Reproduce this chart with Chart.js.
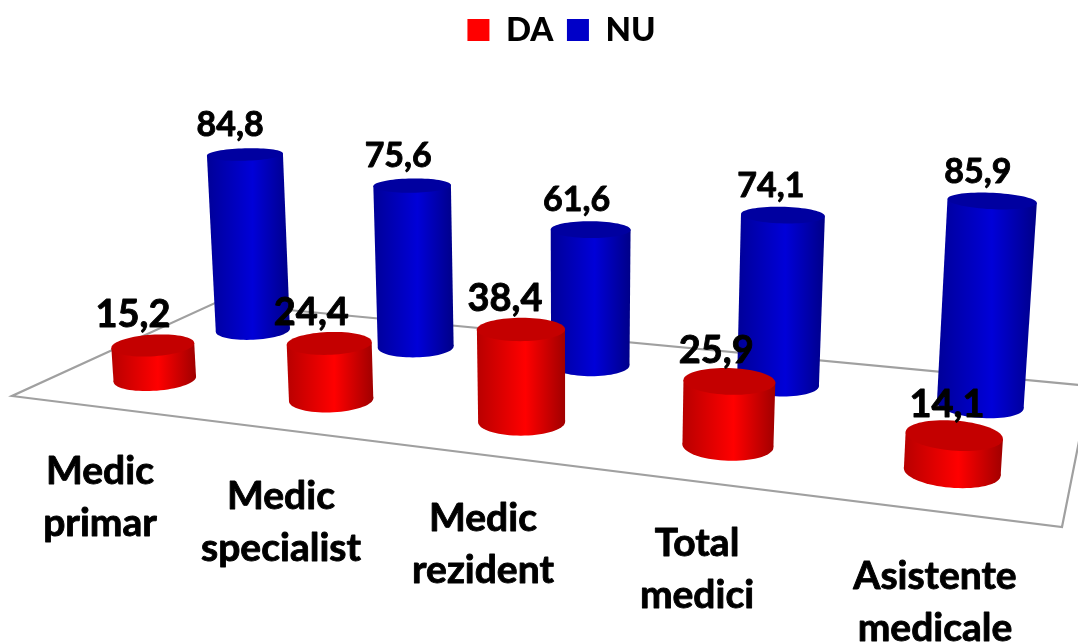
<!DOCTYPE html>
<html><head><meta charset="utf-8">
<style>html,body{margin:0;padding:0;background:#fff;overflow:hidden}canvas{display:block}</style>
<script src="https://cdn.jsdelivr.net/npm/chart.js@4/dist/chart.umd.js"></script>
</head><body><canvas id="c" width="1078" height="643"></canvas>
<script>
const categories = [['Medic','primar'],['Medic','specialist'],['Medic','rezident'],['Total','medici'],['Asistente','medicale']];
const daValues = [15.2,24.4,38.4,25.9,14.1];
const nuValues = [84.8,75.6,61.6,74.1,85.9];

// view geometry of the pseudo-3D floor
const FONT = 'Lato, "Open Sans", sans-serif';
const baseQuad = [[155,379],[952,471.5],[980,405],[253,330]];
const vanish = [573,7400];
const heightGain = -3.15e-4;
const radius = 0.205;
const floorCorners = [[12,396],[1062,527],[1090,386],[215,303]];
const labelCentres = [[100,497],[281,522],[483,544],[697,569],[935,602]];
const valueFont = [38,34];
const valueShiftX = [[-20,-18,-16,-13,-7],[-15,-14,-14,-12,-14]];
const valueShiftY = [-30,-29];
const palette = [
  {legend:'#ff0000',edgeL:'#b80000',mid:'#ff0000',edgeR:'#a00000',top:'#c40000'},
  {legend:'#0000c8',edgeL:'#000098',mid:'#0000d8',edgeR:'#000088',top:'#0000a0'}
];

function homography(q){
  const [[x0,y0],[x1,y1],[x2,y2],[x3,y3]] = q;
  const dx1=x1-x2,dx2=x3-x2,sx=x0-x1+x2-x3,dy1=y1-y2,dy2=y3-y2,sy=y0-y1+y2-y3;
  const den=dx1*dy2-dx2*dy1;
  const g=(sx*dy2-dx2*sy)/den,h=(dx1*sy-sx*dy1)/den;
  return [x1-x0+g*x1,x3-x0+h*x3,x0,y1-y0+g*y1,y3-y0+h*y3,y0,g,h,1];
}
const H = homography(baseQuad);
function project(i,s,v){
  const u=i/4;
  const X=H[0]*u+H[1]*s+H[2]+heightGain*v*vanish[0];
  const Y=H[3]*u+H[4]*s+H[5]+heightGain*v*vanish[1];
  const W=H[6]*u+H[7]*s+H[8]+heightGain*v;
  return [X/W,Y/W];
}
function ring(i,s,v){
  const pts=[];
  for(let k=0;k<72;k++){
    const a=k/72*Math.PI*2;
    pts.push(project(i+radius*Math.cos(a),s+radius*Math.sin(a),v));
  }
  return pts;
}
function extremes(pts){
  let l=pts[0],r=pts[0],t=pts[0];
  for(const p of pts){ if(p[0]<l[0])l=p; if(p[0]>r[0])r=p; if(p[1]<t[1])t=p; }
  return {l,r,t};
}
function tracePoly(ctx,pts){
  ctx.beginPath();
  pts.forEach((p,k)=>k?ctx.lineTo(p[0],p[1]):ctx.moveTo(p[0],p[1]));
  ctx.closePath();
}

class CylinderElement extends Chart.BarElement {
  draw(ctx){
    const g=this.cyl; if(!g) return;
    const pal=palette[g.s];
    const bot=ring(g.i,g.s,0), top=ring(g.i,g.s,g.v);
    const eb=extremes(bot), et=extremes(top);
    const xl=Math.min(eb.l[0],et.l[0]), xr=Math.max(eb.r[0],et.r[0]);
    const grad=ctx.createLinearGradient(xl,0,xr,0);
    grad.addColorStop(0,pal.edgeL);
    grad.addColorStop(0.55,pal.mid);
    grad.addColorStop(1,pal.edgeR);
    ctx.save();
    ctx.fillStyle=grad;
    tracePoly(ctx,bot); ctx.fill();
    tracePoly(ctx,[eb.l,et.l,et.r,eb.r]); ctx.fill();
    ctx.fillStyle=pal.top;
    tracePoly(ctx,top); ctx.fill();
    ctx.restore();
  }
}
CylinderElement.id='cylinder';
Chart.register(CylinderElement);

class CylinderController extends Chart.BarController {
  updateElement(el,index,props,mode){
    const xs=this._cachedMeta.iScale, ys=this._cachedMeta.vScale;
    const i=(xs.getPixelForValue(index)-xs.left)/xs.width*categories.length-0.5;
    const raw=this.getParsed(index)[ys.axis];
    const v=(ys.getPixelForValue(0)-ys.getPixelForValue(raw))/(ys.getPixelForValue(0)-ys.getPixelForValue(100))*100;
    const s=this.index;
    el.cyl={i,s,v,raw};
    const b=project(i,s,0), t=project(i,s,v);
    props.x=t[0]; props.y=t[1]; props.base=b[1];
    super.updateElement(el,index,props,mode);
  }
}
CylinderController.id='cylinderBar';
CylinderController.defaults=Object.assign({},Chart.BarController.defaults,{dataElementType:'cylinder'});
CylinderController.overrides=Chart.BarController.overrides;
Chart.register(CylinderController);

function boldText(c,str,x,y){
  c.strokeText(str,x,y);
  c.fillText(str,x,y);
}
const scene={
  id:'scene',
  beforeDatasetsDraw(chart){
    const c=chart.ctx;
    c.save();
    c.strokeStyle='#a0a0a0'; c.lineWidth=2.2; c.lineJoin='miter';
    tracePoly(c,floorCorners); c.stroke();
    c.restore();
  },
  afterDatasetsDraw(chart){
    const c=chart.ctx;
    c.save();
    c.fillStyle='#000'; c.strokeStyle='#000'; c.lineWidth=0.9; c.lineJoin='round';
    c.textAlign='center'; c.textBaseline='middle';
    chart.data.datasets.forEach((ds,d)=>{
      c.font='bold '+valueFont[d]+'px '+FONT;
      chart.getDatasetMeta(d).data.forEach((el,k)=>{
        const t=project(el.cyl.i,d,el.cyl.v);
        boldText(c,ds.data[k].toFixed(1).replace('.',','),t[0]+valueShiftX[d][k],t[1]+valueShiftY[d]);
      });
    });
    c.font='bold 39px '+FONT;
    categories.forEach((lines,k)=>{
      const [x,y]=labelCentres[k];
      boldText(c,lines[0],x,y-26);
      boldText(c,lines[1],x,y+26);
    });
    c.restore();
  }
};

new Chart(document.getElementById('c'),{
  type:'cylinderBar',
  data:{labels:categories.map(l=>l.join(' ')),datasets:[
    {label:'DA',data:daValues,backgroundColor:palette[0].legend,clip:false},
    {label:'NU',data:nuValues,backgroundColor:palette[1].legend,clip:false}
  ]},
  plugins:[scene],
  options:{
    responsive:false,animation:false,
    layout:{padding:{left:45}},
    scales:{x:{display:false},y:{display:false,min:0,max:100}},
    plugins:{tooltip:{enabled:false},legend:{display:true,position:'top',
      labels:{boxWidth:22,boxHeight:22,padding:13.5,color:'#000',font:{family:FONT,size:33,weight:'900'}}}}
  }
});
</script></body></html>
